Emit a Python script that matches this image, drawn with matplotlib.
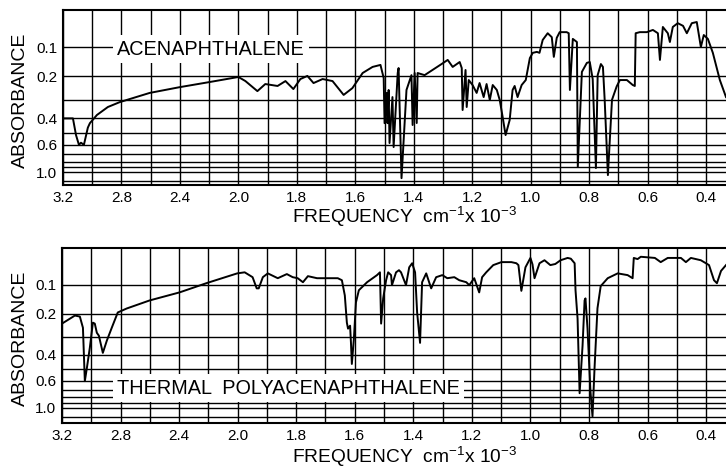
import numpy as np
import matplotlib
matplotlib.use('agg')
import matplotlib.pyplot as plt

plt.rcParams['font.family'] = ['Liberation Sans', 'DejaVu Sans']
plt.rcParams['mathtext.default'] = 'regular'

# frequency in cm-1 x 10^-3, absorbance
freq_acen = [3.200, 3.132, 3.111, 3.091, 3.077, 3.057, 3.030, 3.016, 2.968, 2.893,
             2.811, 2.607, 2.402, 2.198, 2.041, 2.000, 1.976, 1.935, 1.908, 1.866,
             1.839, 1.812, 1.788, 1.764, 1.743, 1.712, 1.678, 1.640, 1.610, 1.575,
             1.541, 1.514, 1.503, 1.500, 1.493, 1.490, 1.486, 1.483, 1.473, 1.469,
             1.455, 1.452, 1.442, 1.425, 1.408, 1.404, 1.397, 1.390, 1.387, 1.363,
             1.336, 1.305, 1.284, 1.267, 1.243, 1.236, 1.233, 1.223, 1.219, 1.212,
             1.199, 1.185, 1.175, 1.161, 1.151, 1.140, 1.130, 1.116, 1.106, 1.096,
             1.086, 1.072, 1.062, 1.055, 1.045, 1.031, 1.017, 1.003, 0.993, 0.979,
             0.970, 0.959, 0.942, 0.928, 0.921, 0.911, 0.901, 0.877, 0.870, 0.866,
             0.856, 0.842, 0.839, 0.825, 0.808, 0.798, 0.788, 0.777, 0.771, 0.760,
             0.753, 0.747, 0.736, 0.722, 0.706, 0.695, 0.671, 0.651, 0.644, 0.641,
             0.627, 0.603, 0.582, 0.565, 0.558, 0.548, 0.531, 0.524, 0.514, 0.497,
             0.479, 0.466, 0.449, 0.432, 0.418, 0.408, 0.394, 0.377, 0.353, 0.332]
abs_acen = [0.40, 0.40, 0.515, 0.60, 0.58, 0.60, 0.46, 0.43, 0.38, 0.336,
            0.311, 0.268, 0.243, 0.222, 0.206, 0.202, 0.218, 0.260, 0.230, 0.238,
            0.218, 0.251, 0.210, 0.198, 0.226, 0.210, 0.218, 0.277, 0.247, 0.187,
            0.165, 0.158, 0.206, 0.43, 0.268, 0.43, 0.255, 0.583, 0.287, 0.622,
            0.187, 0.169, 1.18, 0.255, 0.195, 0.442, 0.187, 0.429, 0.187, 0.195,
            0.176, 0.155, 0.141, 0.165, 0.148, 0.169, 0.352, 0.176, 0.336, 0.214,
            0.234, 0.268, 0.226, 0.287, 0.230, 0.301, 0.234, 0.255, 0.301, 0.392,
            0.515, 0.410, 0.255, 0.238, 0.287, 0.234, 0.214, 0.135, 0.118, 0.115,
            0.118, 0.079, 0.060, 0.071, 0.131, 0.073, 0.057, 0.057, 0.060, 0.255,
            0.076, 0.085, 0.893, 0.183, 0.151, 0.148, 0.210, 0.913, 0.195, 0.155,
            0.165, 0.301, 1.08, 0.30, 0.240, 0.214, 0.214, 0.234, 0.238, 0.060,
            0.057, 0.057, 0.051, 0.060, 0.141, 0.043, 0.060, 0.085, 0.043, 0.033,
            0.040, 0.060, 0.033, 0.030, 0.100, 0.065, 0.076, 0.118, 0.214, 0.287]

freq_poly = [3.200, 3.166, 3.112, 3.078, 3.057, 3.044, 3.030, 3.010, 2.989, 2.976,
             2.962, 2.948, 2.921, 2.894, 2.860, 2.819, 2.758, 2.601, 2.397, 2.214,
             2.003, 1.976, 1.949, 1.935, 1.928, 1.914, 1.897, 1.863, 1.832, 1.812,
             1.795, 1.777, 1.760, 1.729, 1.709, 1.658, 1.644, 1.634, 1.627, 1.623,
             1.616, 1.613, 1.610, 1.603, 1.596, 1.586, 1.558, 1.524, 1.514, 1.510,
             1.503, 1.493, 1.486, 1.476, 1.473, 1.459, 1.449, 1.442, 1.425, 1.414,
             1.404, 1.394, 1.387, 1.377, 1.370, 1.356, 1.339, 1.322, 1.301, 1.284,
             1.260, 1.243, 1.219, 1.209, 1.192, 1.175, 1.165, 1.151, 1.127, 1.099,
             1.065, 1.048, 1.041, 1.031, 1.017, 1.000, 0.993, 0.986, 0.969, 0.952,
             0.932, 0.915, 0.897, 0.873, 0.862, 0.849, 0.846, 0.839, 0.832, 0.822,
             0.815, 0.812, 0.805, 0.795, 0.788, 0.781, 0.771, 0.760, 0.736, 0.702,
             0.668, 0.651, 0.647, 0.634, 0.623, 0.575, 0.555, 0.531, 0.486, 0.469,
             0.452, 0.418, 0.390, 0.373, 0.363, 0.349, 0.332]
abs_poly = [0.241, 0.228, 0.208, 0.212, 0.259, 0.602, 0.489, 0.359, 0.237, 0.241,
            0.282, 0.296, 0.388, 0.321, 0.259, 0.196, 0.181, 0.152, 0.125, 0.096,
            0.067, 0.064, 0.078, 0.112, 0.112, 0.078, 0.067, 0.081, 0.069, 0.078,
            0.081, 0.093, 0.075, 0.081, 0.081, 0.081, 0.087, 0.135, 0.237, 0.263,
            0.250, 0.332, 0.460, 0.311, 0.159, 0.118, 0.093, 0.072, 0.064, 0.241,
            0.145, 0.087, 0.064, 0.072, 0.102, 0.064, 0.058, 0.064, 0.102, 0.050,
            0.039, 0.064, 0.196, 0.332, 0.093, 0.067, 0.112, 0.078, 0.072, 0.081,
            0.078, 0.087, 0.093, 0.102, 0.081, 0.125, 0.078, 0.064, 0.044, 0.036,
            0.036, 0.039, 0.044, 0.120, 0.050, 0.025, 0.042, 0.081, 0.039, 0.031,
            0.044, 0.041, 0.031, 0.025, 0.027, 0.039, 0.118, 0.220, 0.740, 0.348,
            0.152, 0.145, 0.263, 0.714, 1.29, 0.489, 0.180, 0.105, 0.081, 0.067,
            0.072, 0.081, 0.025, 0.028, 0.022, 0.025, 0.036, 0.025, 0.025, 0.036,
            0.025, 0.031, 0.044, 0.087, 0.096, 0.060, 0.044]

x_labels = [3.2, 2.8, 2.4, 2.0, 1.8, 1.6, 1.4, 1.2, 1.0, 0.8, 0.6, 0.4]
x_grid = [3.0, 2.6, 2.2, 1.9, 1.7, 1.5, 1.3, 1.1, 0.9, 0.7, 0.5]
y_labels = [0.1, 0.2, 0.4, 0.6, 1.0]
y_grid = [0.3, 0.5, 0.7, 0.8, 0.9, 1.3]
names = ['ACENAPHTHALENE', 'THERMAL  POLYACENAPHTHALENE']


# chart paper: scale halves above 2000 cm-1, ordinate linear in transmittance
def fwd_x(f):
    f = np.asarray(f, dtype=float)
    return np.where(f >= 2.0, (f - 2.0) * 0.5, f - 2.0)


def inv_x(u):
    u = np.asarray(u, dtype=float)
    return np.where(u >= 0, u / 0.5 + 2.0, u + 2.0)


def fwd_y(a):
    return 1.0 - 10.0 ** (-np.asarray(a, dtype=float))


def inv_y(t):
    return -np.log10(np.clip(1.0 - np.asarray(t, dtype=float), 1e-9, None))


fig = plt.figure(figsize=(7.26, 4.75), dpi=100)
W, H = 726, 475
panels = [
    dict(box=(63, 10, 663, 175), f=freq_acen, a=abs_acen, ylo=1.55,
         label=(117 - 63, 49 - 10), ylab=100, xlab=217),
    dict(box=(62, 248, 664, 175), f=freq_poly, a=abs_poly, ylo=1.85,
         label=(117 - 62, 388 - 248), ylab=338, xlab=457),
]

for i, p in enumerate(panels):
    x0, y0, w, h = p['box']
    ax = fig.add_axes([x0 / W, 1 - (y0 + h) / H, w / W, h / H])
    ax.set_xscale('function', functions=(fwd_x, inv_x))
    ax.set_yscale('function', functions=(fwd_y, inv_y))
    ax.plot(p['f'], p['a'], color='black', lw=1.4, zorder=2)
    ax.set_xlim(3.2, 0.332)
    ax.set_ylim(p['ylo'], 0.0)

    ax.set_xticks(x_labels, ['%.1f' % v for v in x_labels])
    ax.set_xticks(x_grid, minor=True)
    ax.set_yticks(y_labels, ['%.1f' % v for v in y_labels])
    ax.set_yticks(y_grid, minor=True)
    ax.tick_params(which='both', length=0, labelsize=11)
    ax.tick_params(axis='x', pad=4)
    ax.tick_params(axis='y', pad=4)
    ax.xaxis.set_minor_formatter(plt.NullFormatter())
    ax.yaxis.set_minor_formatter(plt.NullFormatter())
    ax.grid(which='both', color='black', lw=1.0)

    for s in ['left', 'top', 'bottom']:
        ax.spines[s].set_linewidth(1.5)
    ax.spines['right'].set_visible(False)

    lx, ly = p['label']
    ax.text(lx / w, 1 - ly / h, names[i], transform=ax.transAxes,
            ha='left', va='center', fontsize=14.3, zorder=5,
            bbox=dict(facecolor='white', edgecolor='none', pad=3))

    fig.text(20 / W, 1 - p['ylab'] / H, 'ABSORBANCE', rotation=90,
             ha='center', va='center', fontsize=14)
    fig.text(405 / W, 1 - p['xlab'] / H, 'FREQUENCY  cm$^{-1}$x 10$^{-3}$',
             ha='center', va='center', fontsize=13.8)

fig.savefig('out.png', dpi=100)
